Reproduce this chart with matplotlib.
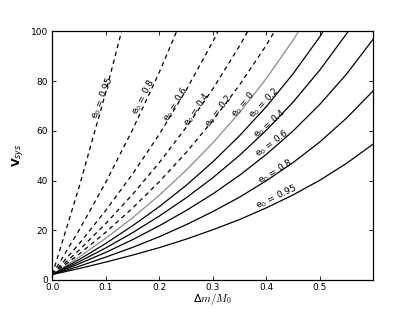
import matplotlib
matplotlib.use("Agg")
import matplotlib.pyplot as plt

# mass loss fraction (shared x grid)
dm = [0.0, 0.05, 0.1, 0.15, 0.2, 0.25, 0.3, 0.35, 0.4, 0.45, 0.5, 0.55, 0.6]

# dashed family
v_dash_095 = [2.2, 37.3, 75.5, 117.1]
v_dash_08 = [2.2, 20.0, 39.3, 60.4, 83.5, 108.9]
v_dash_06 = [2.2, 14.5, 28.0, 42.6, 58.6, 76.3, 95.8, 117.4]
v_dash_04 = [2.2, 12.0, 22.7, 34.4, 47.2, 61.3, 76.8, 94.1, 113.4]
v_dash_02 = [2.2, 10.4, 19.2, 28.9, 39.5, 51.2, 64.1, 78.4, 94.4, 112.5]

# circular case (grey)
v_e0 = [2.2, 9.2, 16.8, 25.0, 34.1, 44.1, 55.1, 67.3, 81.0, 96.4, 113.9]

# solid family
v_solid_02 = [2.2, 8.2, 14.7, 21.8, 29.5, 38.0, 47.5, 58.0, 69.7, 82.9, 97.8, 114.9]
v_solid_04 = [2.2, 7.3, 12.9, 19.0, 25.7, 33.0, 41.1, 50.1, 60.2, 71.5, 84.4, 99.0, 116.0]
v_solid_06 = [2.2, 6.5, 11.1, 16.2, 21.8, 27.9, 34.6, 42.1, 50.5, 59.9, 70.6, 82.8, 96.9]
v_solid_08 = [2.2, 5.5, 9.2, 13.1, 17.4, 22.2, 27.5, 33.3, 39.9, 47.2, 55.5, 65.1, 76.1]
v_solid_095 = [2.2, 4.6, 7.2, 10.0, 13.0, 16.4, 20.2, 24.3, 29.0, 34.2, 40.1, 46.9, 54.7]

dashed = [v_dash_095, v_dash_08, v_dash_06, v_dash_04, v_dash_02]
solid = [v_solid_02, v_solid_04, v_solid_06, v_solid_08, v_solid_095]

dash_labels = ["0.95", "0.8", "0.6", "0.4", "0.2"]
solid_labels = ["0.2", "0.4", "0.6", "0.8", "0.95"]

# label placement (x, y, angle)
dash_pos = [(0.094, 73.0, 68), (0.171, 73.7, 62), (0.231, 70.8, 58), (0.271, 68.6, 55), (0.312, 67.7, 52)]
e0_pos = (0.357, 70.4, 49)
solid_pos = [(0.396, 71.3, 45), (0.407, 63.0, 40), (0.41, 55.0, 36), (0.416, 43.5, 31), (0.42, 33.5, 25)]

plt.rcParams["xtick.direction"] = "in"
plt.rcParams["ytick.direction"] = "in"
plt.rcParams["xtick.top"] = True
plt.rcParams["ytick.right"] = True
plt.rcParams["font.size"] = 6

fig = plt.figure(figsize=(4.15, 3.12), dpi=100)
ax = fig.add_axes([0.126, 0.1026, 0.7735, 0.7971])

lw = 0.9
for v in dashed:
    ax.plot(dm[: len(v)], v, color="black", lw=lw, linestyle=(0, (3.5, 3.0)))
ax.plot(dm[: len(v_e0)], v_e0, color="0.55", lw=lw)
for v in solid:
    ax.plot(dm[: len(v)], v, color="black", lw=lw)

txt = dict(fontsize=6.5, ha="center", va="center", rotation_mode="anchor")
for lab, (x, y, a) in zip(dash_labels, dash_pos):
    ax.text(x, y, r"e$_0$ = " + lab, rotation=a, **txt)
ax.text(e0_pos[0], e0_pos[1], r"e$_0$ = 0", rotation=e0_pos[2], **txt)
for lab, (x, y, a) in zip(solid_labels, solid_pos):
    ax.text(x, y, r"e$_0$ = " + lab, rotation=a, **txt)

ax.set_xlim(0, 0.6)
ax.set_ylim(0, 100)
ax.set_xticks([0.0, 0.1, 0.2, 0.3, 0.4, 0.5])
ax.set_yticks([0, 20, 40, 60, 80, 100])
ax.tick_params(length=3, width=0.6, labelsize=6.5)
ax.tick_params(axis="x", pad=2.5)
ax.tick_params(axis="y", pad=3)
for s in ax.spines.values():
    s.set_linewidth(0.9)

ax.set_xlabel(r"$\mathregular{\Delta} m/M_0$", fontsize=8, labelpad=-1,
              math_fontfamily="cm")
ax.set_ylabel(r"$\mathbf{V}_{sys}$", fontsize=8, labelpad=3)

fig.savefig("out.png", dpi=100)
